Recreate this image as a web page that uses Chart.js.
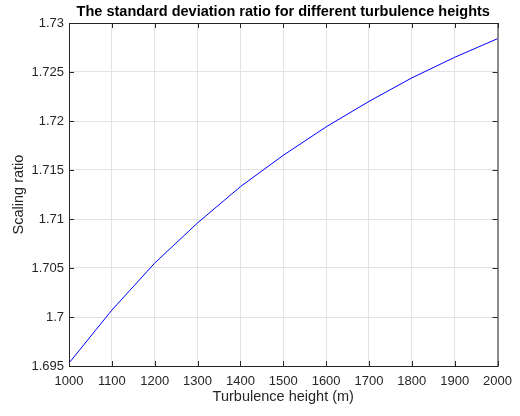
<!DOCTYPE html>
<html>
<head>
<meta charset="utf-8">
<script src="https://cdn.jsdelivr.net/npm/chart.js@4/dist/chart.umd.min.js"></script>
<style>
  body { margin: 0; background: #fff; }
  #ratio-chart { display: block; }
</style>
</head>
<body>
<canvas id="ratio-chart" width="520" height="416"></canvas>
<script>
// turbulence heights (m) and the matching scaling ratio
const heights = [1000, 1100, 1200, 1300, 1400, 1500, 1600, 1700, 1800, 1900, 2000];
const ratios = [1.6953, 1.7007, 1.7055, 1.7096, 1.7133, 1.7165, 1.7194, 1.7220, 1.7244, 1.7265, 1.7284];

const xTicks = [1000, 1100, 1200, 1300, 1400, 1500, 1600, 1700, 1800, 1900, 2000];
const yTicks = [1.695, 1.7, 1.705, 1.71, 1.715, 1.72, 1.725, 1.73];

const axisColor = '#262626';
const fontFamily = '"Liberation Sans", Arial, Helvetica, sans-serif';

// box around the axes plus the small inward tick marks (matlab look)
const boxPlugin = {
    id: 'boxPlugin',
    afterDraw(chart) {
        const { ctx, chartArea } = chart;
        const x = chart.scales.x;
        const y = chart.scales.y;
        const len = 5;
        ctx.save();
        ctx.strokeStyle = axisColor;
        ctx.lineWidth = 1;
        ctx.beginPath();
        xTicks.forEach(v => {
            const px = Math.round(x.getPixelForValue(v)) + 0.5;
            ctx.moveTo(px, chartArea.bottom);
            ctx.lineTo(px, chartArea.bottom - len);
            ctx.moveTo(px, chartArea.top);
            ctx.lineTo(px, chartArea.top + len);
        });
        yTicks.forEach(v => {
            const py = Math.round(y.getPixelForValue(v)) + 0.5;
            ctx.moveTo(chartArea.left, py);
            ctx.lineTo(chartArea.left + len, py);
            ctx.moveTo(chartArea.right, py);
            ctx.lineTo(chartArea.right - len, py);
        });
        ctx.stroke();
        ctx.strokeRect(chartArea.left + 0.5, chartArea.top + 0.5,
            chartArea.right - chartArea.left, chartArea.bottom - chartArea.top);
        ctx.restore();
    }
};

const ctx = document.getElementById('ratio-chart').getContext('2d');
const myChart = new Chart(ctx, {
    type: 'line',
    data: {
        datasets: [{
            data: heights.map((h, i) => ({ x: h, y: ratios[i] })),
            borderColor: '#0000ff',
            borderWidth: 1,
            pointRadius: 0,
            fill: false,
            tension: 0,
        }],
    },
    options: {
        responsive: false,
        animation: false,
        layout: { padding: { left: 0, right: 17, top: 0, bottom: 0 } },
        plugins: {
            legend: { display: false },
            tooltip: { enabled: false },
            title: {
                display: true,
                fullSize: false,
                text: 'The standard deviation ratio for different turbulence heights',
                color: '#000',
                font: { family: fontFamily, size: 14.5, weight: 'bold', lineHeight: 1.2 },
                padding: { top: 3, bottom: 2.6 },
            },
        },
        scales: {
            x: {
                type: 'linear',
                min: 1000,
                max: 2000,
                afterBuildTicks: axis => { axis.ticks = xTicks.map(v => ({ value: v })); },
                afterFit: axis => { axis.height = 50; },
                grid: { color: '#e3e3e3', drawTicks: false },
                border: { display: false },
                ticks: {
                    color: axisColor,
                    padding: 8,
                    maxRotation: 0,
                    font: { family: fontFamily, size: 13 },
                    callback: v => String(v),
                },
                title: {
                    display: true,
                    text: 'Turbulence height (m)',
                    color: axisColor,
                    font: { family: fontFamily, size: 14.5 },
                    padding: { top: 0, bottom: 10 },
                },
            },
            y: {
                type: 'linear',
                min: 1.695,
                max: 1.73,
                afterBuildTicks: axis => { axis.ticks = yTicks.map(v => ({ value: v })); },
                afterFit: axis => { axis.width = 69; },
                grid: { color: '#e3e3e3', drawTicks: false },
                border: { display: false },
                ticks: {
                    color: axisColor,
                    padding: 5,
                    font: { family: fontFamily, size: 13 },
                    callback: v => String(Number(v.toFixed(3))),
                },
                title: {
                    display: true,
                    text: 'Scaling ratio',
                    color: axisColor,
                    font: { family: fontFamily, size: 14.5 },
                    padding: { top: 10, bottom: 0 },
                },
            },
        },
    },
    plugins: [boxPlugin],
});
</script>
</body>
</html>
